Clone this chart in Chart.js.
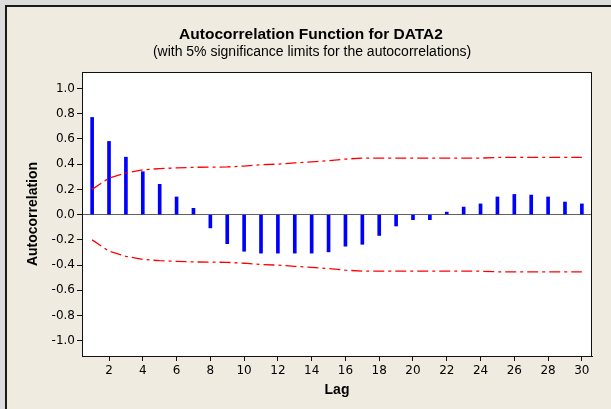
<!DOCTYPE html>
<html>
<head>
<meta charset="utf-8">
<script src="https://cdn.jsdelivr.net/npm/chart.js@4"></script>
<style>
    html, body { margin: 0; padding: 0; }
    body { width: 611px; height: 409px; background: #dcdcdc; position: relative; overflow: hidden; }
    #frame {
        position: absolute; left: 5px; top: 5px; width: 640px; height: 440px;
        background: #efebe1; border-left: 2px solid #1a1a1a; border-top: 2px solid #1a1a1a;
    }
    #acfChart { position: absolute; left: 0; top: 0; }
</style>
</head>
<body>
<div id="frame"></div>
<canvas id="acfChart" width="611" height="409"></canvas>
<script>
const lags = [1, 2, 3, 4, 5, 6, 7, 8, 9, 10, 11, 12, 13, 14, 15,
    16, 17, 18, 19, 20, 21, 22, 23, 24, 25, 26, 27, 28, 29, 30];
const acf = [0.77, 0.58, 0.455, 0.34, 0.24, 0.14, 0.05, -0.105, -0.23, -0.29, -0.305, -0.305, -0.305, -0.305, -0.295,
    -0.25, -0.235, -0.165, -0.09, -0.04, -0.04, 0.02, 0.06, 0.085, 0.14, 0.16, 0.155, 0.14, 0.1, 0.085];
const upperLimit = [0.20, 0.29, 0.33, 0.355, 0.365, 0.37, 0.375, 0.376, 0.378, 0.385, 0.395, 0.40, 0.41, 0.418, 0.428,
    0.44, 0.448, 0.448, 0.448, 0.448, 0.448, 0.448, 0.448, 0.448, 0.453, 0.453, 0.453, 0.453, 0.453, 0.453];
const lowerLimit = [-0.20, -0.29, -0.33, -0.355, -0.365, -0.37, -0.375, -0.376, -0.378, -0.385, -0.395, -0.40, -0.41, -0.418, -0.428,
    -0.44, -0.448, -0.448, -0.448, -0.448, -0.448, -0.448, -0.448, -0.448, -0.453, -0.453, -0.453, -0.453, -0.453, -0.453];
const xTickValues = [2, 4, 6, 8, 10, 12, 14, 16, 18, 20, 22, 24, 26, 28, 30];
const yTickValues = [-1.0, -0.8, -0.6, -0.4, -0.2, 0.0, 0.2, 0.4, 0.6, 0.8, 1.0];

const chartTitle = 'Autocorrelation Function for DATA2';
const chartSubtitle = '(with 5% significance limits for the autocorrelations)';

const tickFont = { family: 'DejaVu Sans', size: 12 };
const labelFont = { family: 'Liberation Sans', size: 14, weight: 'bold' };

function toPoints(values) {
    return lags.map((lag, i) => ({ x: lag, y: values[i] }));
}

// white plot box, black frame and the two title lines
const plotFrame = {
    id: 'plotFrame',
    beforeDraw(chart) {
        const { ctx, chartArea: a } = chart;
        ctx.save();
        ctx.fillStyle = '#ffffff';
        ctx.fillRect(a.left, a.top, a.right - a.left, a.bottom - a.top);
        ctx.restore();
    },
    afterDraw(chart) {
        const { ctx, chartArea: a } = chart;
        ctx.save();
        ctx.strokeStyle = '#111111';
        ctx.lineWidth = 1;
        ctx.strokeRect(a.left + 0.5, a.top + 0.5, a.right - a.left - 1, a.bottom - a.top);
        ctx.fillStyle = '#000000';
        ctx.textAlign = 'center';
        ctx.textBaseline = 'middle';
        ctx.font = 'bold 15.5px "Liberation Sans"';
        ctx.fillText(chartTitle, 311, 35);
        ctx.font = '14px "Liberation Sans"';
        ctx.fillText(chartSubtitle, 312, 52);
        ctx.restore();
    }
};

const limitStyle = {
    type: 'line',
    borderColor: '#ff0000',
    borderWidth: 1.3,
    borderDash: [11, 4, 3, 4],
    pointRadius: 0,
    tension: 0,
    fill: false
};

new Chart(document.getElementById('acfChart'), {
    data: {
        datasets: [
            Object.assign({ label: 'Upper limit', data: toPoints(upperLimit) }, limitStyle),
            Object.assign({ label: 'Lower limit', data: toPoints(lowerLimit) }, limitStyle),
            {
                type: 'bar',
                label: 'Autocorrelation',
                data: toPoints(acf),
                backgroundColor: '#0000ff',
                barThickness: 3
            }
        ]
    },
    options: {
        responsive: false,
        animation: false,
        layout: { padding: { top: 72, right: 19, left: 0, bottom: 0 } },
        plugins: {
            legend: { display: false },
            title: { display: false },
            tooltip: { enabled: false }
        },
        scales: {
            x: {
                type: 'linear',
                offset: false,
                min: 0.4,
                max: 30.6,
                afterFit: scale => { scale.height = 53; },
                afterBuildTicks: scale => { scale.ticks = xTickValues.map(v => ({ value: v })); },
                ticks: { font: tickFont, color: '#000', padding: 3, maxRotation: 0 },
                grid: { offset: false, drawOnChartArea: false, tickLength: 5, tickColor: '#111' },
                border: { color: '#111' },
                title: { display: true, text: 'Lag', font: labelFont, color: '#000', padding: { top: 0, bottom: 10 } }
            },
            y: {
                min: -1.12,
                max: 1.13,
                afterFit: scale => { scale.width = 82; },
                afterBuildTicks: scale => { scale.ticks = yTickValues.map(v => ({ value: v })); },
                ticks: { font: tickFont, color: '#000', padding: 2, callback: v => v.toFixed(1) },
                grid: {
                    drawOnChartArea: true,
                    tickLength: 5,
                    tickColor: '#111',
                    color: c => (c.tick && c.tick.value === 0 ? '#606060' : 'rgba(0,0,0,0)')
                },
                border: { color: '#111' },
                title: { display: true, text: 'Autocorrelation', font: labelFont, color: '#000', padding: { top: 25, bottom: 0 } }
            }
        }
    },
    plugins: [plotFrame]
});
</script>
</body>
</html>
